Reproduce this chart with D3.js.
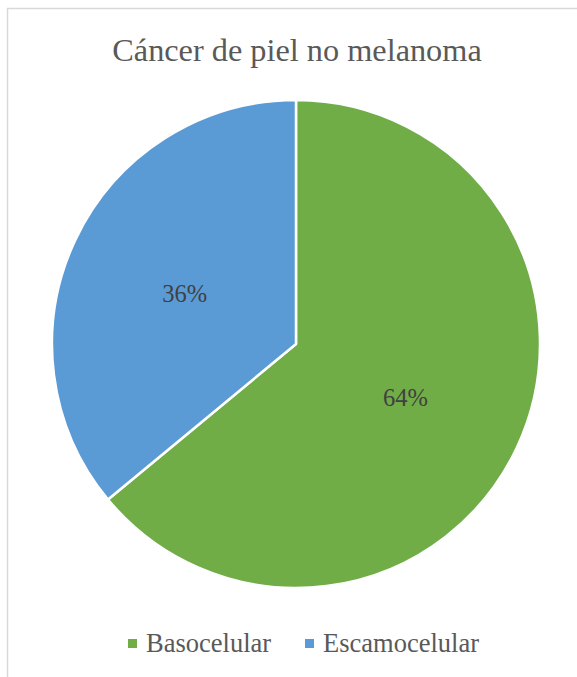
<!DOCTYPE html>
<html><head><meta charset="utf-8">
<script src="https://cdn.jsdelivr.net/npm/d3@7"></script>
<style>body{margin:0;background:#fff}svg{display:block}
text{font-family:"Liberation Serif";}</style>
</head><body>
<script>
const categories = ["Basocelular", "Escamocelular"];
const values = [64, 36];
const labels = ["64%", "36%"];
const colors = ["#70AD47", "#5B9BD5"];
const title = "Cáncer de piel no melanoma";

const W = 577, H = 677;
const svg = d3.select("body").append("svg").attr("width", W).attr("height", H);
svg.append("rect").attr("x", 7.5).attr("y", 8.5).attr("width", 600).attr("height", 700)
  .attr("fill", "#fff").attr("stroke", "#d9d9d9").attr("stroke-width", 1.5);

svg.append("text").attr("x", 297).attr("y", 61).attr("text-anchor", "middle")
  .style("font-size", "32.3px").attr("fill", "#595959").text(title);

const cx = 296, cy = 344, r = 244;
const pie = d3.pie().sort(null).value(d => d);
const arcs = pie(values);
const arc = d3.arc().innerRadius(0).outerRadius(r);
const g = svg.append("g").attr("transform", `translate(${cx},${cy})`);
g.selectAll("path").data(arcs).join("path")
  .attr("d", arc).attr("fill", (d, i) => colors[i])
  .attr("stroke", "#fff").attr("stroke-width", 2.5).attr("stroke-linejoin", "round");

const lArc = d3.arc().innerRadius(r * 0.5).outerRadius(r * 0.5);
g.selectAll("text.lab").data(arcs).join("text").attr("class", "lab")
  .attr("x", d => lArc.centroid(d)[0] - 1).attr("y", d => lArc.centroid(d)[1])
  .attr("dy", "0.4em").attr("text-anchor", "middle")
  .style("font-size", "24.5px").attr("fill", "#404040")
  .text((d, i) => labels[i]);

const leg = svg.append("g");
const lx = [128, 305];
categories.forEach((c, i) => {
  leg.append("rect").attr("x", lx[i]).attr("y", 639).attr("width", 9).attr("height", 9).attr("fill", colors[i]);
  leg.append("text").attr("x", lx[i] + 18).attr("y", 652)
    .style("font-size", "26.5px").attr("fill", "#595959").text(c);
});
</script>
</body></html>
